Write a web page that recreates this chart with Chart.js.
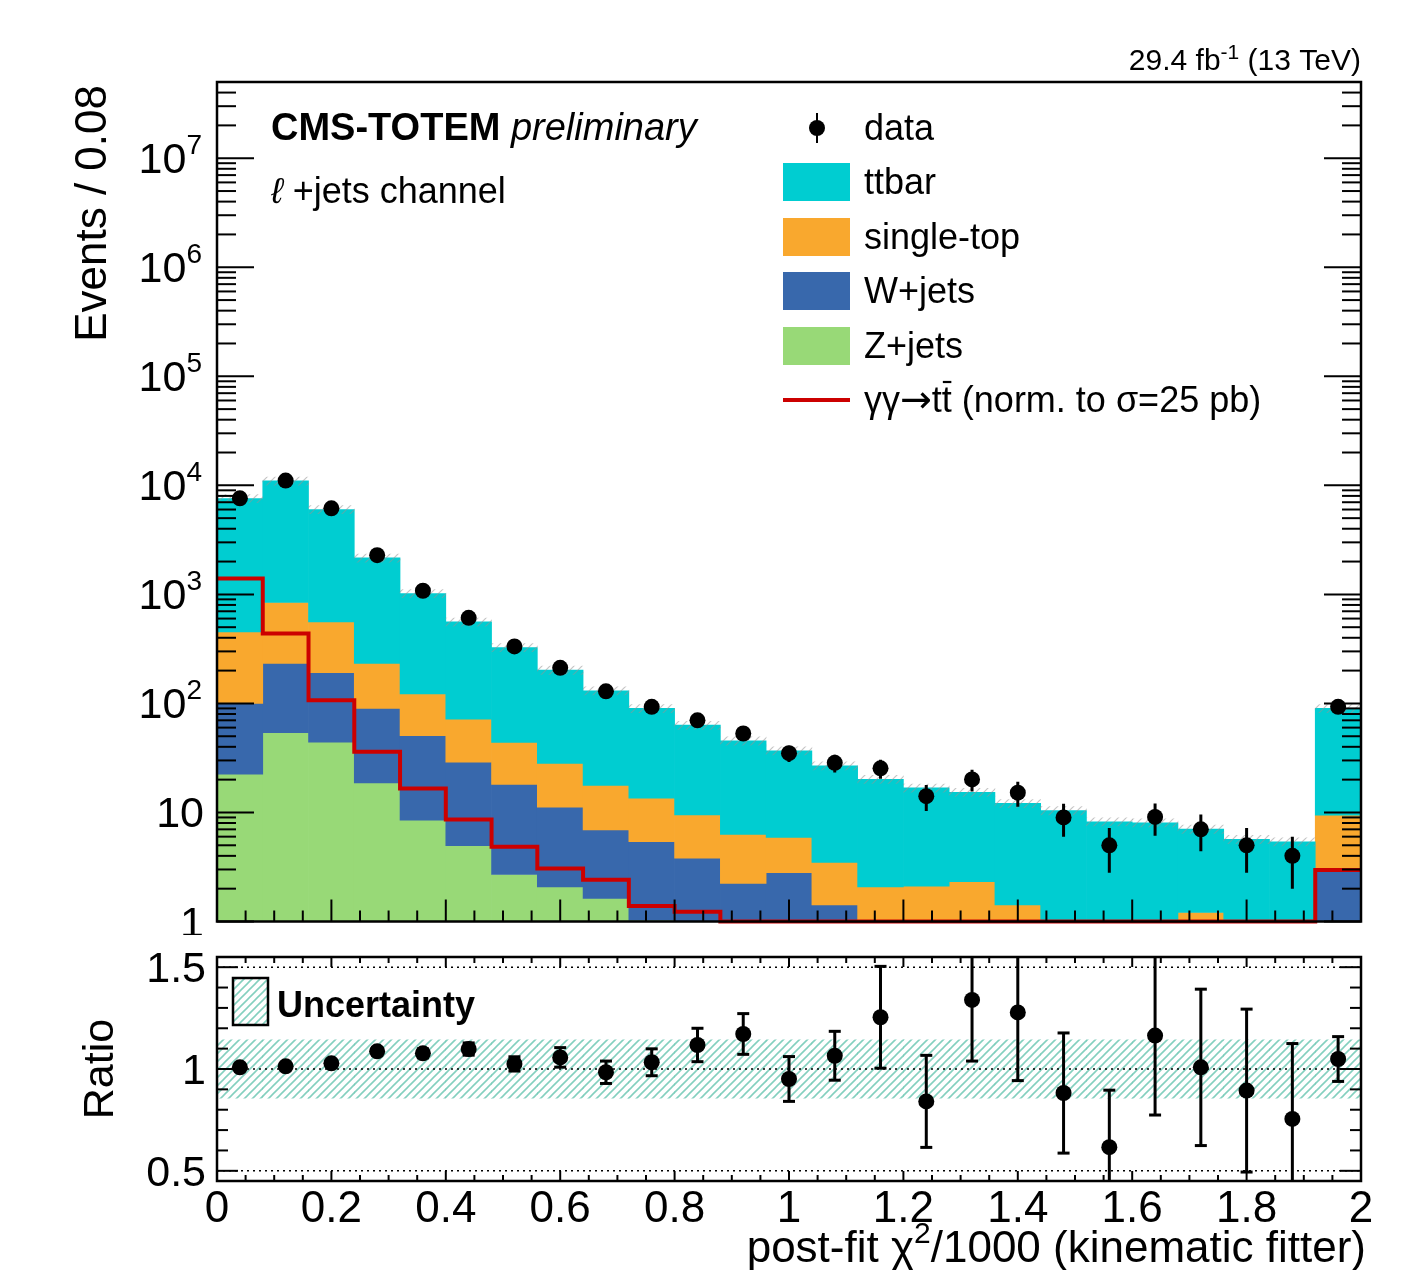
<!DOCTYPE html>
<html>
<head>
<meta charset="utf-8">
<script src="https://cdn.jsdelivr.net/npm/chart.js@4.4.1/dist/chart.umd.min.js"></script>
<style>
  html, body { margin: 0; padding: 0; background: #ffffff; }
  #wrap { position: relative; width: 1420px; height: 1270px; background: #fff; }
  #mainBox { position: absolute; left: 0; top: 0; width: 1420px; height: 935px; }
  #ratioBox { position: absolute; left: 0; top: 935px; width: 1420px; height: 335px; }
</style>
</head>
<body>
<div id="wrap">
  <div id="mainBox"><canvas id="mainCanvas" width="1420" height="935"></canvas></div>
  <div id="ratioBox"><canvas id="ratioCanvas" width="1420" height="335"></canvas></div>
</div>
<script>
// ===================== DATA =====================
// bins: 25 bins of width 0.08 from 0 to 2 (last bin includes overflow)
const binCenters = [0.04, 0.12, 0.20, 0.28, 0.36, 0.44, 0.52, 0.60, 0.68, 0.76, 0.84, 0.92, 1.00,
                    1.08, 1.16, 1.24, 1.32, 1.40, 1.48, 1.56, 1.64, 1.72, 1.80, 1.88, 1.96];
const binWidth = 0.08;

// stacked MC components (events per bin)
const ttbar     = [7117, 10127, 5440, 1927, 897, 488, 282, 174, 113, 76.5, 53.7, 39.1, 30.9,
                   23.3, 18.1, 14.7, 13.0, 10.7, 10.4, 8.22, 8.05, 5.83, 5.67, 5.39, 80.5];
const singleTop = [353, 610, 369, 143, 71.5, 42.8, 25.9, 17.0, 10.8, 8.1, 5.67, 4.06, 3.1,
                   2.07, 2.08, 2.11, 2.32, 1.42, 0, 0, 0, 1.21, 0, 0, 6.5];
const wJets     = [77.5, 179, 147, 71.3, 42, 24, 15.4, 9.1, 5.27, 4.37, 2.78, 2.24, 2.8,
                   1.42, 0, 0, 0, 0, 0, 0, 0, 0, 0, 0, 2.95];
const zJets     = [22.5, 53.8, 44.2, 18.7, 8.5, 4.95, 2.7, 2.08, 1.63, 1.03, 1.02, 0, 0,
                   0, 0, 0, 0, 0, 0, 0, 0, 0, 0, 0, 0];
// gamma gamma -> ttbar signal (normalised to 25 pb); values at/below axis minimum drawn at 1
const ggtt      = [1400, 438, 107, 36, 16.6, 8.6, 4.85, 3.07, 2.42, 1.39, 1.23, 1, 1,
                   1, 1, 1, 1, 1, 1, 1, 1, 1, 1, 1, 2.96];
// data
const dataCounts = [7600, 11050, 6150, 2290, 1080, 610, 333, 212, 129, 93, 70, 53, 35,
                    28.5, 25.4, 14.1, 20.1, 15.2, 9.0, 5.0, 9.1, 7.0, 5.0, 4.0, 93];
const dataErr    = [87, 105, 78, 48, 33, 25, 18, 15, 11, 9.6, 8.4, 7.3, 5.9,
                    5.3, 5.0, 3.8, 4.5, 3.9, 3.0, 2.2, 3.0, 2.6, 2.2, 2.0, 9.6];
// ratio panel
const ratioVals  = [1.008, 1.013, 1.028, 1.087, 1.077, 1.098, 1.025, 1.057, 0.984, 1.033, 1.118, 1.172, 0.951,
                    1.065, 1.254, 0.841, 1.339, 1.278, 0.882, 0.616, 1.164, 1.008, 0.894, 0.755, 1.049];
const ratioErr   = [0.012, 0.010, 0.014, 0.018, 0.022, 0.030, 0.035, 0.048, 0.055, 0.066, 0.082, 0.100, 0.110,
                    0.120, 0.250, 0.226, 0.300, 0.335, 0.295, 0.280, 0.390, 0.384, 0.400, 0.370, 0.110];
// relative MC uncertainty (hatched band)
const mcUnc      = [0.143, 0.143, 0.143, 0.143, 0.143, 0.143, 0.143, 0.143, 0.143, 0.143, 0.143, 0.143, 0.143,
                    0.143, 0.143, 0.143, 0.143, 0.143, 0.143, 0.143, 0.143, 0.143, 0.143, 0.143, 0.143];

// tick labels
const yTickPowers     = [0, 1, 2, 3, 4, 5, 6, 7];
const xTickLabels     = ['0', '0.2', '0.4', '0.6', '0.8', '1', '1.2', '1.4', '1.6', '1.8', '2'];
const ratioTickLabels = ['0.5', '1', '1.5'];

// ===================== STYLE =====================
const FONT = '"Liberation Sans", Arial, Helvetica, sans-serif';
const F = (size, style) => `${style || ''} ${size}px ${FONT}`.trim();
const FA = (size) => `${size}px "DejaVu Sans", sans-serif`;
const COL_TT = '#00cdd1', COL_ST = '#f9a82e', COL_W = '#3868ac', COL_Z = '#98d977', COL_RED = '#cc0000';
const Y_MIN = 1, Y_MAX = 5e7, X_MIN = 0, X_MAX = 2, R_MIN = 0.45, R_MAX = 1.55;

function hatch(color, lw, gap) {
  const c = document.createElement('canvas');
  c.width = gap; c.height = gap;
  const g = c.getContext('2d');
  g.strokeStyle = color; g.lineWidth = lw; g.lineCap = 'square';
  g.beginPath();
  g.moveTo(0, gap); g.lineTo(gap, 0);
  g.moveTo(-gap / 2, gap / 2); g.lineTo(gap / 2, -gap / 2);
  g.moveTo(gap / 2, gap * 1.5); g.lineTo(gap * 1.5, gap / 2);
  g.stroke();
  return g.createPattern(c, 'repeat');
}
const hatchTeal = hatch('rgba(110,200,180,0.85)', 1.6, 8);
const hatchGrey = hatch('rgba(150,150,150,0.55)', 1.2, 8);

// rich text: parts [{t, f, dy}]
function drawRich(ctx, parts, x, y, align) {
  let w = 0;
  for (const p of parts) { ctx.font = p.f; w += ctx.measureText(p.t).width; }
  let cx = align === 'right' ? x - w : (align === 'center' ? x - w / 2 : x);
  ctx.textAlign = 'left';
  for (const p of parts) {
    ctx.font = p.f;
    ctx.fillText(p.t, cx, y + (p.dy || 0));
    cx += ctx.measureText(p.t).width;
  }
  return w;
}
function line(ctx, x1, y1, x2, y2) { ctx.beginPath(); ctx.moveTo(x1, y1); ctx.lineTo(x2, y2); ctx.stroke(); }

// ===================== MAIN PANEL =====================
const stackComps = [
  { label: 'Z+jets', vals: zJets, color: COL_Z },
  { label: 'W+jets', vals: wJets, color: COL_W },
  { label: 'single-top', vals: singleTop, color: COL_ST },
  { label: 'ttbar', vals: ttbar, color: COL_TT }
];
let prevCum = binCenters.map(() => 0);
const stackDatasets = [];
stackComps.forEach((comp, k) => {
  const top = prevCum.map((p, i) => p + comp.vals[i]);
  const lo = prevCum;
  stackDatasets.push({
    type: 'bar', label: comp.label,
    data: binCenters.map((c, i) => ({ x: c, y: [Math.max(lo[i], Y_MIN), Math.max(top[i], Y_MIN)] })),
    backgroundColor: comp.color, borderWidth: 0, order: 6 - k
  });
  prevCum = top;
});
const totalMC = prevCum;

const lowEdges = binCenters.map(c => c - binWidth / 2);
const ggttPoints = lowEdges.map((e, i) => ({ x: e, y: ggtt[i] }));
ggttPoints.push({ x: binCenters[binCenters.length - 1] + binWidth / 2, y: ggtt[ggtt.length - 1] });

const mainDatasets = [
  { type: 'line', label: 'data', data: binCenters.map((c, i) => ({ x: c, y: dataCounts[i] })),
    showLine: false, pointRadius: 8, pointHoverRadius: 8, pointBackgroundColor: '#000', pointBorderWidth: 0, order: 0 },
  { type: 'line', label: 'gg->tt', data: ggttPoints, stepped: true, borderColor: COL_RED, borderWidth: 4,
    pointRadius: 0, fill: false, tension: 0, order: 1, clip: 3 },
  { type: 'bar', label: 'MC unc.', data: binCenters.map((c, i) => ({ x: c, y: [totalMC[i] * (1 - mcUnc[i] * 0.6), totalMC[i] * (1 + mcUnc[i] * 0.6)] })),
    backgroundColor: hatchGrey, borderWidth: 0, order: 2 },
  ...stackDatasets
];

const mainPlugin = {
  id: 'mainDecor',
  afterDatasetsDraw(chart) {
    const { ctx, chartArea: a } = chart;
    const xs = chart.scales.x, ys = chart.scales.y;
    ctx.save();
    ctx.beginPath(); ctx.rect(a.left, a.top, a.right - a.left, a.bottom - a.top); ctx.clip();
    ctx.strokeStyle = '#000'; ctx.lineWidth = 3;
    dataCounts.forEach((v, i) => {
      const px = xs.getPixelForValue(binCenters[i]);
      const lo = v - dataErr[i];
      const y1 = lo > 0 ? ys.getPixelForValue(lo) : a.bottom;
      const y2 = ys.getPixelForValue(v + dataErr[i]);
      line(ctx, px, y1, px, y2);
    });
    ctx.restore();

    ctx.save();
    ctx.strokeStyle = '#000';
    ctx.lineWidth = 2;
    for (let e = 0; e <= 7; e++) {
      for (let k = 1; k <= 9; k++) {
        const v = k * Math.pow(10, e);
        if (v > Y_MAX) break;
        const py = ys.getPixelForValue(v);
        const len = k === 1 ? 37 : 19;
        line(ctx, a.left, py, a.left + len, py);
        line(ctx, a.right - len, py, a.right, py);
      }
    }
    for (let i = 0; i <= 40; i++) {
      const v = X_MIN + i * 0.05;
      const px = xs.getPixelForValue(v);
      const len = i % 4 === 0 ? 22 : 11;
      line(ctx, px, a.bottom, px, a.bottom - len);
    }
    ctx.lineWidth = 2.5;
    ctx.strokeRect(a.left, a.top, a.right - a.left, a.bottom - a.top);
    ctx.restore();

    // ---------- texts ----------
    ctx.save();
    ctx.fillStyle = '#000';
    ctx.textBaseline = 'alphabetic';
    yTickPowers.forEach(e => {
      const py = ys.getPixelForValue(Math.pow(10, e));
      const base = py + 15;
      if (e === 0) drawRich(ctx, [{ t: '1', f: F(43) }], 204, base, 'right');
      else if (e === 1) drawRich(ctx, [{ t: '10', f: F(43) }], 204, base, 'right');
      else drawRich(ctx, [{ t: '10', f: F(43) }, { t: String(e), f: F(28), dy: -19 }], 202, base, 'right');
    });
    ctx.save();
    ctx.translate(106, 85);
    ctx.rotate(-Math.PI / 2);
    ctx.font = F(44); ctx.textAlign = 'right';
    ctx.fillText('Events / 0.08', 0, 0);
    ctx.restore();
    drawRich(ctx, [{ t: '29.4 fb', f: F(30) }, { t: '-1', f: F(21), dy: -11 }, { t: ' (13 TeV)', f: F(30) }], 1361, 70, 'right');
    drawRich(ctx, [{ t: 'CMS-TOTEM ', f: F(38, 'bold') }, { t: 'preliminary', f: F(38, 'italic') }], 271, 140, 'left');
    drawRich(ctx, [{ t: 'ℓ', f: F(36, 'italic') }, { t: ' +jets channel', f: F(36) }], 271, 203, 'left');

    // legend
    const lx0 = 783, lx1 = 850, tx = 864;
    const rows = [128, 182, 237, 291, 346, 400];
    ctx.strokeStyle = '#000'; ctx.lineWidth = 2;
    line(ctx, 817, rows[0] - 15, 817, rows[0] + 15);
    ctx.beginPath(); ctx.arc(817, rows[0], 8, 0, Math.PI * 2); ctx.fill();
    ctx.font = F(36);
    ctx.textAlign = 'left';
    ctx.fillText('data', tx, rows[0] + 12);
    const boxes = [['ttbar', COL_TT], ['single-top', COL_ST], ['W+jets', COL_W], ['Z+jets', COL_Z]];
    boxes.forEach((b, k) => {
      const cy = rows[k + 1];
      ctx.fillStyle = b[1];
      ctx.fillRect(lx0, cy - 19, lx1 - lx0, 38);
      ctx.fillStyle = '#000';
      ctx.font = F(36);
      ctx.fillText(b[0], tx, cy + 12);
    });
    const cy = rows[5];
    ctx.strokeStyle = COL_RED; ctx.lineWidth = 4;
    line(ctx, lx0, cy, lx1, cy);
    ctx.fillStyle = '#000';
    const base = cy + 12;
    let cx = tx;
    ctx.font = F(36); ctx.fillText('γγ', cx, base); cx += ctx.measureText('γγ').width;
    ctx.font = FA(38); ctx.fillText('→', cx, base); cx += ctx.measureText('→').width;
    ctx.font = F(36);
    const wt = ctx.measureText('t').width;
    ctx.fillText('tt', cx, base);
    ctx.strokeStyle = '#000'; ctx.lineWidth = 2.2;
    line(ctx, cx + wt + 1, base - 30, cx + 2 * wt - 0.5, base - 30);
    cx += 2 * wt;
    ctx.fillText(' (norm. to σ=25 pb)', cx, base);
    ctx.restore();
  }
};

new Chart(document.getElementById('mainCanvas'), {
  type: 'bar',
  data: { datasets: mainDatasets },
  options: {
    responsive: false, animation: false, devicePixelRatio: 1,
    layout: { padding: { left: 217, top: 82, right: 59, bottom: 13.5 } },
    datasets: { bar: { grouped: false, barPercentage: 1, categoryPercentage: 1 } },
    plugins: { legend: { display: false }, tooltip: { enabled: false } },
    events: [],
    scales: {
      x: { type: 'linear', min: X_MIN, max: X_MAX, offset: false, display: false },
      y: { type: 'logarithmic', min: Y_MIN, max: Y_MAX, display: false }
    }
  },
  plugins: [mainPlugin]
});

// ===================== RATIO PANEL =====================
const ratioPlugin = {
  id: 'ratioDecor',
  afterDatasetsDraw(chart) {
    const { ctx, chartArea: a } = chart;
    const xs = chart.scales.x, ys = chart.scales.y;
    ctx.save();
    ctx.beginPath(); ctx.rect(a.left, a.top, a.right - a.left, a.bottom - a.top); ctx.clip();
    ctx.strokeStyle = '#000'; ctx.lineWidth = 1.6; ctx.setLineDash([2, 4]);
    ratioTickLabels.forEach(l => {
      const py = ys.getPixelForValue(parseFloat(l));
      line(ctx, a.left, py, a.right, py);
    });
    ctx.setLineDash([]);
    ctx.lineWidth = 3;
    ratioVals.forEach((v, i) => {
      const px = xs.getPixelForValue(binCenters[i]);
      const y1 = ys.getPixelForValue(v - ratioErr[i]);
      const y2 = ys.getPixelForValue(v + ratioErr[i]);
      line(ctx, px, y1, px, y2);
      line(ctx, px - 6, y1, px + 6, y1);
      line(ctx, px - 6, y2, px + 6, y2);
    });
    ctx.restore();

    ctx.save();
    ctx.strokeStyle = '#000'; ctx.lineWidth = 2;
    for (let i = 5; i <= 15; i++) {
      const v = i / 10;
      const py = ys.getPixelForValue(v);
      const len = i % 5 === 0 ? 21 : 11;
      line(ctx, a.left, py, a.left + len, py);
      line(ctx, a.right - len, py, a.right, py);
    }
    for (let i = 0; i <= 40; i++) {
      const v = X_MIN + i * 0.05;
      const px = xs.getPixelForValue(v);
      const len = i % 4 === 0 ? 10 : 6;
      line(ctx, px, a.bottom, px, a.bottom - len);
      line(ctx, px, a.top, px, a.top + len);
    }
    ctx.lineWidth = 2.5;
    ctx.strokeRect(a.left, a.top, a.right - a.left, a.bottom - a.top);

    ctx.fillStyle = hatchTeal;
    ctx.fillRect(233, 43, 35, 47);
    ctx.strokeStyle = '#000'; ctx.lineWidth = 2.5;
    ctx.strokeRect(233, 43, 35, 47);
    ctx.fillStyle = '#000';
    ctx.font = F(36, 'bold'); ctx.textAlign = 'left'; ctx.textBaseline = 'alphabetic';
    ctx.fillText('Uncertainty', 277, 82);

    ratioTickLabels.forEach(l => {
      const py = ys.getPixelForValue(parseFloat(l));
      drawRich(ctx, [{ t: l, f: F(43) }], 206, py + 15, 'right');
    });
    xTickLabels.forEach(l => {
      const px = xs.getPixelForValue(parseFloat(l));
      drawRich(ctx, [{ t: l, f: F(44) }], px, a.bottom + 41, 'center');
    });
    drawRich(ctx, [{ t: 'post-fit χ', f: F(44) }, { t: '2', f: F(30), dy: -19 }, { t: '/1000 (kinematic fitter)', f: F(44) }], 1366, 327, 'right');
    ctx.save();
    ctx.translate(113, ys.getPixelForValue(1));
    ctx.rotate(-Math.PI / 2);
    ctx.font = F(43); ctx.textAlign = 'center';
    ctx.fillText('Ratio', 0, 0);
    ctx.restore();
    ctx.restore();
  }
};

new Chart(document.getElementById('ratioCanvas'), {
  type: 'bar',
  data: {
    datasets: [
      { type: 'line', label: 'data/MC', data: binCenters.map((c, i) => ({ x: c, y: ratioVals[i] })),
        showLine: false, pointRadius: 8, pointHoverRadius: 8, pointBackgroundColor: '#000', pointBorderWidth: 0, order: 0 },
      { type: 'bar', label: 'Uncertainty', data: binCenters.map((c, i) => ({ x: c, y: [1 - mcUnc[i], 1 + mcUnc[i]] })),
        backgroundColor: hatchTeal, borderWidth: 0, order: 1 }
    ]
  },
  options: {
    responsive: false, animation: false, devicePixelRatio: 1,
    layout: { padding: { left: 217, top: 22, right: 59, bottom: 89 } },
    datasets: { bar: { grouped: false, barPercentage: 1, categoryPercentage: 1 } },
    plugins: { legend: { display: false }, tooltip: { enabled: false } },
    events: [],
    scales: {
      x: { type: 'linear', min: X_MIN, max: X_MAX, offset: false, display: false },
      y: { type: 'linear', min: R_MIN, max: R_MAX, display: false }
    }
  },
  plugins: [ratioPlugin]
});
</script>
</body>
</html>
